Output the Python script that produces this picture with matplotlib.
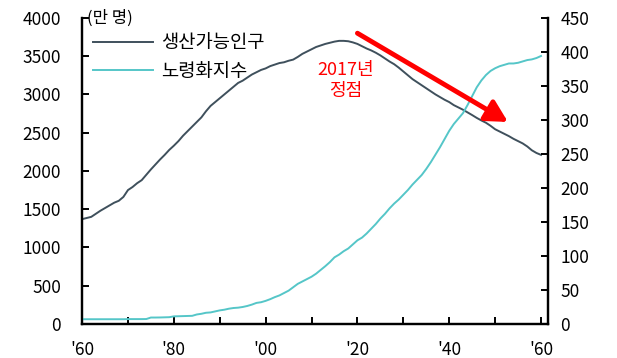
import matplotlib
matplotlib.use("Agg")
import matplotlib.pyplot as plt
from matplotlib.ticker import MultipleLocator, FixedLocator

plt.rcParams['font.family'] = ['Noto Sans CJK KR', 'DejaVu Sans']

years = list(range(1960, 2061))

# 생산가능인구 (만 명)
working_age = [
    1370, 1385, 1400, 1440, 1480, 1515, 1550, 1585, 1610, 1660,
    1750, 1790, 1840, 1880, 1950, 2020, 2085, 2150, 2210, 2275,
    2330, 2390, 2460, 2520, 2580, 2640, 2700, 2780, 2850, 2900,
    2950, 3000, 3050, 3100, 3150, 3180, 3220, 3260, 3290, 3320,
    3340, 3370, 3390, 3410, 3420, 3440, 3455, 3490, 3530, 3560,
    3590, 3620, 3640, 3660, 3675, 3690, 3700, 3700, 3695, 3680,
    3660, 3630, 3600, 3575, 3545, 3510, 3470, 3430, 3395, 3350,
    3300, 3250, 3200, 3160, 3120, 3080, 3040, 3000, 2965, 2930,
    2900, 2860, 2830, 2800, 2765, 2730, 2693, 2660, 2630, 2590,
    2545, 2515, 2485, 2455, 2420, 2390, 2360, 2320, 2270, 2235,
    2210,
]

# 노령화지수
aging_index = [
    7.0, 7.0, 7.0, 7.0, 7.0, 7.0, 7.0, 7.0, 7.0, 7.0,
    7.2, 7.2, 7.2, 7.2, 7.3, 9.5, 9.5, 9.6, 9.8, 10.0,
    11.2, 11.4, 11.6, 11.8, 12.0, 14.0, 15.0, 16.5, 17.0, 18.5,
    20.0, 21.0, 22.5, 23.5, 24.0, 25.0, 26.5, 28.5, 31.0, 32.0,
    34.0, 36.5, 39.5, 42.0, 45.5, 49.0, 54.0, 59.0, 62.5, 66.0,
    69.5, 74.0, 79.5, 85.0, 91.0, 98.0, 102.0, 107.0, 111.0, 117.0,
    123.0, 127.0, 133.0, 140.0, 147.0, 155.0, 162.0, 170.0, 177.0, 183.0,
    190.0, 197.0, 205.0, 212.0, 219.0, 228.0, 238.0, 249.0, 260.0, 272.0,
    284.0, 294.0, 302.0, 310.0, 322.0, 335.0, 348.0, 358.0, 366.0, 372.0,
    376.0, 379.0, 381.0, 383.0, 383.0, 384.0, 386.0, 388.0, 389.0, 391.0,
    394.0,
]

xtick_years = [1960, 1980, 2000, 2020, 2040, 2060]
xtick_labels = ["'60", "'80", "'00", "'20", "'40", "'60"]
left_ticks = list(range(0, 4001, 500))
right_ticks = list(range(0, 451, 50))

peak_label = "2017년\n정점"
arrow_start = (2020, 3800)
arrow_end = (2052.8, 2640)

dark = '#3f505c'
cyan = '#55c6c8'

fig = plt.figure(figsize=(6.17, 3.58), dpi=100)
ax = fig.add_axes([0.133, 0.095, 0.755, 0.855])
ax2 = ax.twinx()

l1, = ax.plot(years, working_age, color=dark, lw=1.4, label='생산가능인구')
l2, = ax2.plot(years, aging_index, color=cyan, lw=1.4, label='노령화지수')

ax.set_xlim(1960, 2061.5)
ax.set_ylim(0, 4000)
ax2.set_ylim(0, 450)

ax.xaxis.set_major_locator(FixedLocator(xtick_years))
ax.set_xticklabels(xtick_labels)
ax.xaxis.set_minor_locator(MultipleLocator(10))
ax.set_yticks(left_ticks)
ax2.set_yticks(right_ticks)

for a in (ax, ax2):
    a.spines['top'].set_visible(False)
    for s in a.spines.values():
        s.set_linewidth(1.6)
        s.set_color('black')

ax.tick_params(axis='x', which='both', direction='in', length=5, width=1.4,
               pad=12, labelsize=12.5, colors='black')
ax.tick_params(axis='y', direction='in', length=5, width=1.4, pad=15,
               labelsize=12.5)
ax2.tick_params(axis='y', direction='in', length=5, width=1.4, pad=9,
                labelsize=12.5)

ax.text(0.01, 1.0, '(만 명)', transform=ax.transAxes, ha='left', va='center',
        fontsize=12)

ax.legend(handles=[l1, l2], loc='upper left', bbox_to_anchor=(0.0, 0.99),
          frameon=False, fontsize=13.5, handlelength=3.2, handletextpad=0.4,
          labelspacing=0.4, borderaxespad=0.2)

ax2.annotate('', xy=arrow_end, xytext=arrow_start,
             xycoords=ax.transData, textcoords=ax.transData,
             arrowprops=dict(arrowstyle='-|>,head_length=1.3,head_width=0.7',
                             color='#ff0000', lw=3.5, shrinkA=0, shrinkB=0))

ax2.text(2017.5, 3180, peak_label, transform=ax.transData, color='#ff0000',
         ha='center', va='center', fontsize=13, linespacing=1.25)

fig.savefig('out.png', dpi=100)
